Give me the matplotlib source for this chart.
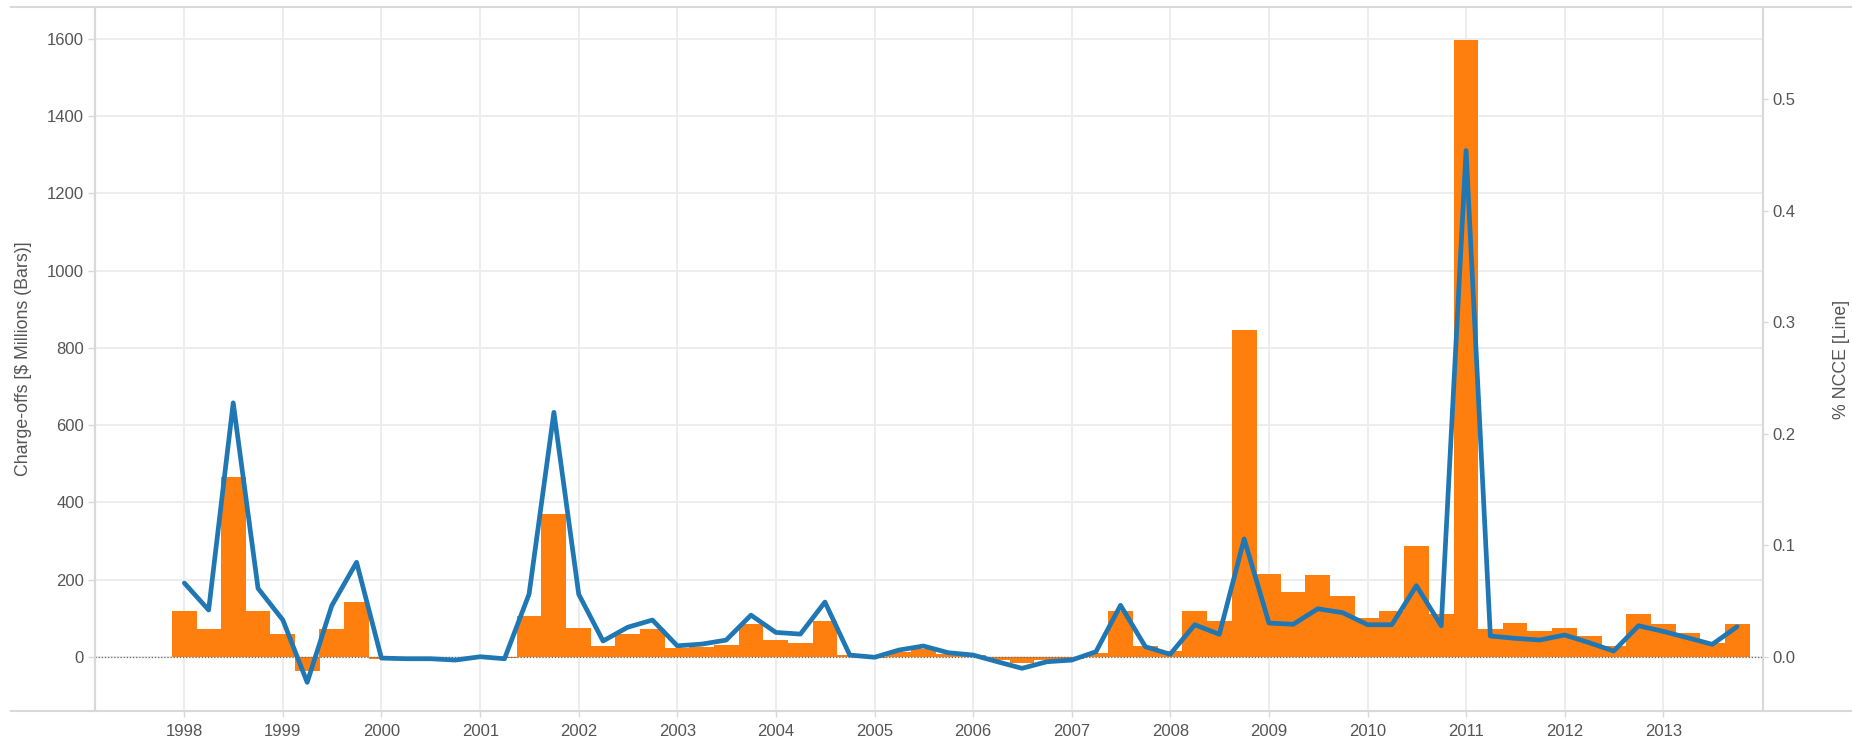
import numpy as np
import pandas as pd
import matplotlib
matplotlib.use('Agg')
from matplotlib import pyplot as plt
import matplotlib.dates as mdates
from matplotlib.lines import Line2D
from matplotlib.ticker import FormatStrFormatter

plt.rcParams['font.family'] = ['Liberation Sans', 'DejaVu Sans']

# quarterly values, 1998 Q1 .. 2013 Q4
quarters = pd.date_range('1998-01-01', periods=64, freq='QS')
years = pd.date_range('1998-01-01', periods=16, freq='YS')

charge_offs = [118, 71, 465, 118,
               59, -36, 72, 141,
               -5, -1, -1, -2,
               -1, -4, 106, 370,
               75, 27, 58, 72,
               22, 26, 30, 85,
               43, 35, 92, 4,
               -3, 13, 19, 7,
               4, -9, -17, -9,
               -5, 10, 118, 29,
               15, 118, 92, 845,
               215, 168, 212, 158,
               100, 118, 287, 110,
               1597, 72, 87, 66,
               74, 54, 28, 110,
               84, 61, 35, 84]

ncce = [0.0661, 0.0419, 0.2277, 0.0613,
        0.0329, -0.0230, 0.0457, 0.0847,
        -0.0012, -0.0018, -0.0018, -0.0030,
        0.0000, -0.0018, 0.0562, 0.2192,
        0.0560, 0.0141, 0.0264, 0.0329,
        0.0098, 0.0113, 0.0149, 0.0373,
        0.0218, 0.0203, 0.0490, 0.0015,
        -0.0005, 0.0060, 0.0096, 0.0036,
        0.0015, -0.0045, -0.0104, -0.0045,
        -0.0030, 0.0045, 0.0461, 0.0090,
        0.0022, 0.0287, 0.0201, 0.1056,
        0.0302, 0.0291, 0.0430, 0.0395,
        0.0287, 0.0287, 0.0637, 0.0278,
        0.4540, 0.0186, 0.0165, 0.0150,
        0.0195, 0.0126, 0.0051, 0.0278,
        0.0227, 0.0170, 0.0111, 0.0269]

bar_color = '#ff7f0e'
line_color = '#1f77b4'
frame_color = '#d9d9d9'
grid_color = '#ececec'
text_color = '#555555'

W, H = 1852, 745
fig = plt.figure(figsize=(W / 100, H / 100), dpi=100)
ax = fig.add_axes([95 / W, 34.3 / H, (1763 - 95) / W, 703.4 / H])

ax.bar(quarters, charge_offs, width=92, color=bar_color, linewidth=0, zorder=2)
ax.axhline(0, color='#666666', lw=0.9, ls=(0, (1, 1.5)), zorder=3)

ax.set_ylim(-139.8, 1682)
ax.set_yticks(np.arange(0, 1601, 200))
ax.set_xlim(pd.Timestamp('1997-02-04'), pd.Timestamp('2014-01-05'))
ax.set_xticks(years)
ax.xaxis.set_major_formatter(mdates.DateFormatter('%Y'))
ax.grid(True, color=grid_color, lw=1.3, zorder=0)
ax.set_axisbelow(True)

ax2 = ax.twinx()
ax2.plot(quarters, ncce, color=line_color, lw=3.4, solid_joinstyle='round',
         solid_capstyle='round', zorder=4)
ax2.set_ylim(-0.0484, 0.5824)
ax2.set_yticks(np.arange(0, 0.51, 0.1))
ax2.yaxis.set_major_formatter(FormatStrFormatter('%.1f'))

for a in (ax, ax2):
    for s in ('top', 'bottom'):
        a.spines[s].set_visible(False)
    for s in ('left', 'right'):
        a.spines[s].set_color(frame_color)
        a.spines[s].set_linewidth(1.5)

ax.tick_params(axis='y', length=5, width=1, color=frame_color, labelcolor=text_color,
               labelsize=12, pad=3)
ax.tick_params(axis='x', length=4.5, width=1, color=frame_color, labelcolor=text_color,
               labelsize=12, pad=5)
ax2.tick_params(axis='y', length=3.5, width=1, color=frame_color, labelcolor=text_color,
                labelsize=12, pad=3)

ax.set_ylabel('Charge-offs [$ Millions (Bars)]', color=text_color, fontsize=12.8)
ax.yaxis.set_label_coords(-0.038, 0.5)
ax2.set_ylabel('% NCCE [Line]', color=text_color, fontsize=12.8)
ax2.yaxis.set_label_coords(1.042, 0.5)

# outer frame lines across the whole width
fig.add_artist(Line2D([11 / W, 1], [737.7 / H, 737.7 / H], color=frame_color, lw=1.5))
fig.add_artist(Line2D([11 / W, 1], [34.3 / H, 34.3 / H], color=frame_color, lw=1.5))

fig.savefig('out.png', dpi=100)
